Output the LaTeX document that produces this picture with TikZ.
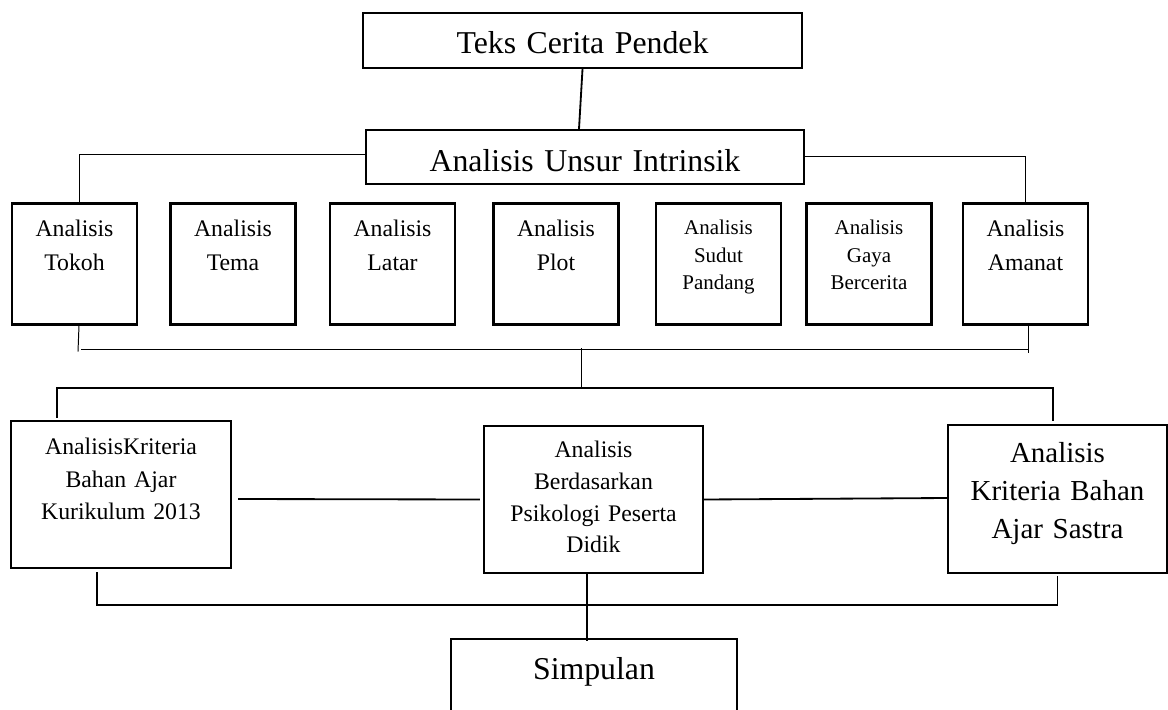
\documentclass[tikz,border=0pt]{standalone}
\usepackage{fontspec}
\setmainfont{Liberation Serif}
\usetikzlibrary{calc}

\begin{document}
\begin{tikzpicture}[x=0.025cm,y=-0.025cm,
  box/.style={draw,line width=1.6pt,align=center,inner sep=0pt},
  fbig/.style={font=\fontsize{22.6}{27}\selectfont},
  fmid/.style={font=\fontsize{16.9}{23.6}\selectfont},
  fsmall/.style={font=\fontsize{14.9}{19.6}\selectfont},
  unsur/.style={box,fmid,text width=3.125cm,text height=0.8375cm,text depth=2.1875cm},
  unsurk/.style={unsur,fsmall,text height=0.775cm,text depth=2.25cm},
  thinlink/.style={line width=0.7pt},
  link/.style={line width=1.3pt}]
\useasboundingbox (0,0) rectangle (1168,709);

\node[box,fbig,text width=10.975cm,text height=1cm,text depth=0.375cm] (teks) at (582.5,40.5) {Teks Cerita Pendek};
\node[box,fbig,text width=10.95cm,text height=1.025cm,text depth=0.325cm] (intr) at (585,157) {Analisis Unsur Intrinsik};

% unsur intrinsik
\node[unsur] (tokoh) at (74.5,264) {Analisis\\Tokoh};
\node[unsur] (tema) at (233,264) {Analisis\\Tema};
\node[unsur] (latar) at (392.5,264) {Analisis\\Latar};
\node[unsur] (plot) at (556,264) {Analisis\\Plot};
\node[unsurk] (sudut) at (718.5,264) {Analisis\\Sudut\\Pandang};
\node[unsurk] (gaya) at (869,264) {Analisis\\Gaya\\Bercerita};
\node[unsur] (amanat) at (1025.5,264) {Analisis\\Amanat};

\draw[link] (teks.south) -- ($(intr.north)+(-6,0)$);
\draw[thinlink] ($(intr.west)+(0,-3)$) -| ($(tokoh.north)+(4.5,0)$);
\draw[thinlink] ($(intr.east)+(0,-1)$) -| (amanat.north);
\draw[thinlink] ($(tokoh.south)+(4.5,0)$) -- ++(-1,26);
\draw[thinlink] ($(tokoh.south)+(6.5,24)$) -- ($(amanat.south)+(2.5,24)$);
\draw[thinlink] ($(amanat.south)+(2.5,0)$) -- ++(0,27);
\coordinate (pusat) at (581,348);
\draw[thinlink] (pusat) -- ++(0,41);

% kriteria bahan ajar
\node[box,fmid,font=\fontsize{16.9}{23.1}\selectfont,text width=5.5cm,text height=0.85cm,text depth=2.825cm] (kur) at (121,494.5) {AnalisisKriteria\\Bahan Ajar\\Kurikulum 2013};
\node[box,fmid,font=\fontsize{16.9}{22.5}\selectfont,text width=5.475cm,text height=0.8cm,text depth=2.875cm] (psi) at (593.5,499.5) {Analisis\\Berdasarkan\\Psikologi Peserta\\Didik};
\node[box,font=\fontsize{20.6}{27}\selectfont,text width=5.475cm,text height=0.95cm,text depth=2.75cm] (sas) at (1057.5,499) {Analisis\\Kriteria Bahan\\Ajar Sastra};

\draw[link] ($(kur.north)+(-64,-2)$) |- ($(sas.north)+(-4.5,-36)$) -- ($(sas.north)+(-4.5,-3)$);
\draw[link] ($(kur.east)+(6,4.5)$) -- ($(psi.west)+(-3,0)$);
\draw[link] (psi.east) -- ($(sas.west)+(0,-1)$);
\draw[link] ($(kur.south)+(-24,3)$) |- ($(sas.south)+(0,31)$) -- ($(sas.south)+(0,2)$);

\node[box,fbig,text width=7.15cm,text height=1cm,text depth=2.025cm] (simp) at (594,699.5) {Simpulan};
\draw[link] ($(psi.south)+(-6.5,0)$) -- ($(simp.north)+(-7,3)$);
\end{tikzpicture}
\end{document}
